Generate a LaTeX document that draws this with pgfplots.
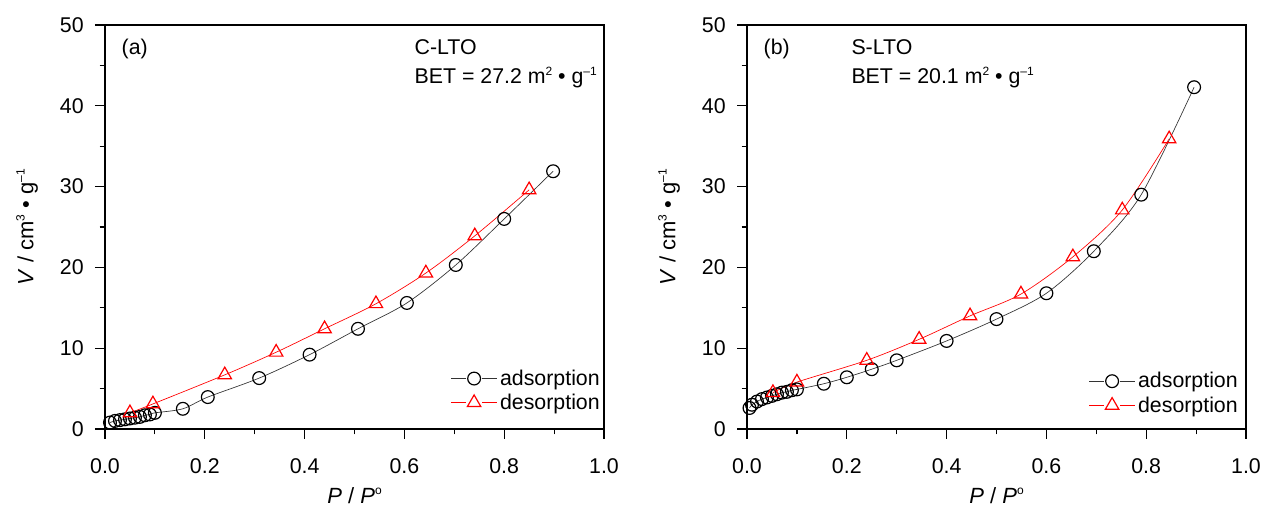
\documentclass[border=0pt]{standalone}
\usepackage{fontspec}
\setmainfont{Liberation Sans}
\usepackage{pgfplots}
\pgfplotsset{compat=1.18}
\definecolor{myred}{RGB}{255,0,0}
\newcommand{\tickfont}{\fontsize{16}{19}\selectfont}
\newcommand{\labfont}{\fontsize{16.5}{19}\selectfont}
\newcommand{\sups}[1]{\raisebox{0.75ex}{\fontsize{9}{9}\selectfont #1}}
\pgfplotsset{
  myaxis/.style={
    scale only axis, width=374.25pt, height=303pt,
    xmin=0, xmax=1, ymin=0, ymax=50,
    xtick={0,0.2,...,1.0}, ytick={0,10,...,50},
    minor x tick num=1, minor y tick num=1,
    tick pos=left, tick align=outside,
    major tick length=7.5pt, minor tick length=4pt,
    axis line style={line width=0.9pt},
    every tick/.style={line width=0.9pt, black},
    /pgf/number format/assume math mode=true,
    xticklabel style={/pgf/number format/fixed, /pgf/number format/fixed zerofill, /pgf/number format/precision=1, font=\tickfont, anchor=north, yshift=-11pt},
    yticklabel style={font=\tickfont, xshift=-5pt},
    xlabel={\textit{P} / \textit{P}\sups{o}},
    ylabel={\textit{V} / cm\sups{3} • g\sups{–1}},
    label style={font=\labfont},
    xlabel style={at={(axis description cs:0.5,0)}, anchor=base, yshift=-56pt},
    ylabel style={at={(axis description cs:-0.156,0.5)}, anchor=center, rotate=0},
    legend cell align=left,
    legend style={draw=none, fill=none, font=\tickfont, row sep=1pt},
    legend image code/.code={
      \draw[#1,mark=none] (0pt,0pt) -- (11pt,0pt);
      \draw[#1,mark=none] (23.5pt,0pt) -- (34.5pt,0pt);
      \draw[#1] plot coordinates {(17.25pt,0pt)};
    },
  },
  ads/.style={black!80, line width=0.5pt, smooth, tension=0.5, mark=o, mark size=4.8pt, mark options={black, line width=0.9pt, solid}},
  des/.style={myred, line width=0.5pt, smooth, tension=0.5, mark=triangle, mark size=5.8pt, mark options={myred, line width=0.9pt, solid}},
}
\begin{document}
\begin{tikzpicture}
\path[use as bounding box] (-78.75pt,-63pt) rectangle (870pt,321.75pt);
\begin{axis}[myaxis, at={(0pt,0pt)}, anchor=south west,
  legend style={at={(1,0)}, anchor=south east, xshift=2pt, yshift=9pt}]
\addplot[ads] coordinates {
(0.01,0.8) (0.02,1.0) (0.03,1.1) (0.04,1.2) (0.05,1.3) (0.06,1.4) (0.07,1.5) (0.08,1.7) (0.09,1.8) (0.10,2.0)
(0.156,2.5) (0.206,3.95) (0.309,6.3) (0.41,9.2) (0.507,12.4) (0.605,15.6) (0.703,20.3) (0.80,26.0) (0.898,31.9)};
\addlegendentry{adsorption}
\addplot[des] coordinates {
(0.05,2.0) (0.096,3.1) (0.24,6.7) (0.343,9.5) (0.44,12.4) (0.543,15.5) (0.643,19.3) (0.741,23.9) (0.85,29.6)};
\addlegendentry{desorption}
\node[anchor=base west, font=\tickfont] at (axis cs:0.024,46.3) {(a)};
\node[anchor=base west, font=\tickfont] at (axis cs:0.611,46.3) {C-LTO};
\node[anchor=base west, font=\tickfont] at (axis cs:0.611,42.7) {BET = 27.2 m\sups{2} • g\sups{–1}};
\end{axis}
\begin{axis}[myaxis, at={(481.5pt,0pt)}, anchor=south west,
  legend style={at={(1,0)}, anchor=south east, xshift=-1pt, yshift=7pt}]
\addplot[ads] coordinates {
(0.005,2.6) (0.01,3.0) (0.02,3.4) (0.03,3.7) (0.04,3.9) (0.05,4.1) (0.06,4.3) (0.07,4.5) (0.08,4.6) (0.09,4.8) (0.10,4.9)
(0.154,5.6) (0.20,6.4) (0.25,7.4) (0.30,8.5) (0.40,10.9) (0.50,13.6) (0.60,16.8) (0.695,22.0) (0.79,29.0) (0.896,42.3)};
\addlegendentry{adsorption}
\addplot[des] coordinates {
(0.052,4.5) (0.10,5.8) (0.24,8.5) (0.345,11.1) (0.447,14.0) (0.549,16.7) (0.653,21.3) (0.752,27.1) (0.846,35.9)};
\addlegendentry{desorption}
\node[anchor=base west, font=\tickfont] at (axis cs:0.024,46.3) {(b)};
\node[anchor=base west, font=\tickfont] at (axis cs:0.20,46.3) {S-LTO};
\node[anchor=base west, font=\tickfont] at (axis cs:0.20,42.7) {BET = 20.1 m\sups{2} • g\sups{–1}};
\end{axis}
\end{tikzpicture}
\end{document}
